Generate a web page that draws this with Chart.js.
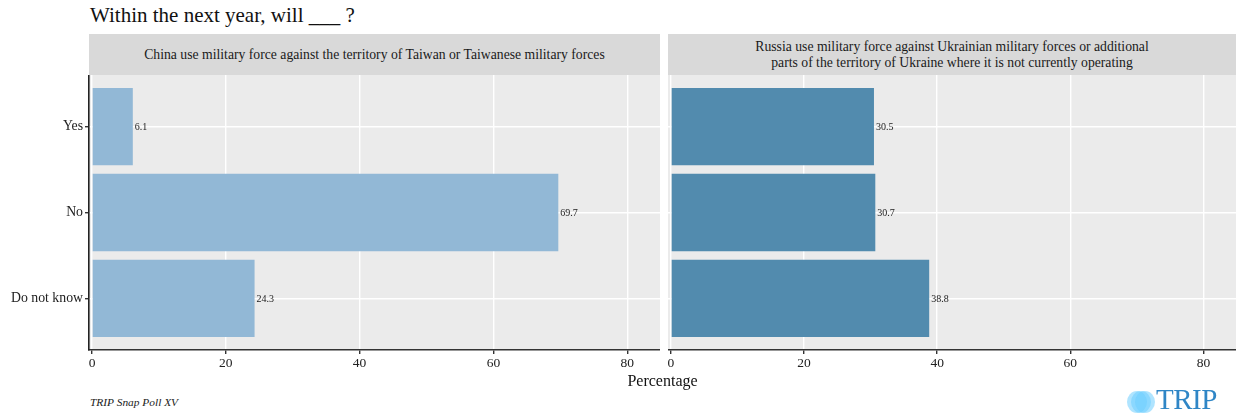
<!DOCTYPE html>
<html>
<head>
<meta charset="utf-8">
<script src="https://cdn.jsdelivr.net/npm/chart.js@4"></script>
<style>
  body { margin: 0; width: 1236px; height: 415px; background: #fff; position: relative; overflow: hidden;
         font-family: "Liberation Serif", "Times New Roman", serif; color: #1a1a1a; }
  .title { position: absolute; left: 90px; top: 3px; font-size: 21px; color: #111; }
  .strip { position: absolute; top: 34px; height: 41px; background: #d9d9d9; display: flex;
           align-items: center; justify-content: center; text-align: center; font-size: 13.7px; line-height: 15.5px; color: #1a1a1a; }
  .panel { position: absolute; top: 75px; height: 300px; }
  .xtitle { position: absolute; left: 89px; width: 1147px; top: 372px; text-align: center; font-size: 16px; color: #111; }
  .source { position: absolute; left: 90px; top: 396px; font-size: 11.4px; font-style: italic; color: #222; }
  .logo { position: absolute; left: 1126px; top: 388px; height: 26px; width: 110px; }
  .logo .dot { position: absolute; top: 3px; width: 20px; height: 22px; border-radius: 50%; background: rgba(110, 205, 255, 0.55); }
  .logo .txt { position: absolute; left: 30px; top: -5px; font-size: 29px; color: #2f86c6; letter-spacing: -0.5px; }
</style>
</head>
<body>
<div class="title">Within the next year, will ___ ?</div>
<div class="strip" style="left:89px;width:571px;">China use military force against the territory of Taiwan or Taiwanese military forces</div>
<div class="strip" style="left:668px;width:568px;">Russia use military force against Ukrainian military forces or additional<br>parts of the territory of Ukraine where it is not currently operating</div>
<div class="panel" style="left:0;width:660px;"><canvas id="china"></canvas></div>
<div class="panel" style="left:668px;width:568px;"><canvas id="russia"></canvas></div>
<div class="xtitle">Percentage</div>
<div class="source">TRIP Snap Poll XV</div>
<div class="logo">
  <div class="dot" style="left:1px;"></div>
  <div class="dot" style="left:5px;"></div>
  <div class="dot" style="left:9px;"></div>
  <div class="txt">TRIP</div>
</div>
<script>
// respostas (ordem de cima para baixo)
const categories = ["Yes", "No", "Do not know"];
const chinaValues = [6.1, 69.7, 24.3];
const russiaValues = [30.5, 30.7, 38.8];
const xTicks = [0, 20, 40, 60, 80];

const serif = '"Liberation Serif", "Times New Roman", serif';

// fundo cinza do painel, estilo ggplot
const panelBg = {
  id: "panelBg",
  beforeDraw(chart) {
    const a = chart.chartArea;
    chart.ctx.save();
    chart.ctx.fillStyle = "#ebebeb";
    chart.ctx.fillRect(a.left, a.top, a.right - a.left, a.bottom - a.top);
    chart.ctx.restore();
  }
};

// rótulos com o valor no fim de cada barra
const valueLabels = {
  id: "valueLabels",
  afterDatasetsDraw(chart) {
    const ctx = chart.ctx;
    ctx.save();
    ctx.font = "10px " + serif;
    ctx.fillStyle = "#1a1a1a";
    ctx.textBaseline = "middle";
    chart.getDatasetMeta(0).data.forEach((bar, i) => {
      ctx.fillText(chart.data.datasets[0].data[i].x.toFixed(1), bar.x + 2, bar.y + 1);
    });
    ctx.restore();
  }
};

function makePanel(canvasId, values, color, showY) {
  new Chart(document.getElementById(canvasId), {
    type: "bar",
    data: {
      datasets: [{
        data: values.map((v, i) => ({ x: v, y: i + 1 })),
        backgroundColor: color,
        borderWidth: 0,
        barPercentage: 0.9,
        categoryPercentage: 1
      }]
    },
    options: {
      indexAxis: "y",
      responsive: true,
      maintainAspectRatio: false,
      animation: false,
      layout: { padding: 0 },
      plugins: { legend: { display: false }, tooltip: { enabled: false } },
      scales: {
        x: {
          type: "linear",
          min: -0.45,
          max: 84.9,
          afterBuildTicks: (s) => { s.ticks = xTicks.map((v) => ({ value: v })); },
          afterFit: (s) => { s.height = 25; s.paddingLeft = 0; s.paddingRight = 0; },
          grid: { color: "#ffffff", lineWidth: 1.4, tickColor: "#333333", tickLength: 4 },
          border: { display: true, color: "#333333", width: 1.6 },
          ticks: { color: "#222", font: { family: serif, size: 13.5 }, padding: 1, maxRotation: 0 }
        },
        y: {
          type: "linear",
          reverse: true,
          offset: false,
          min: 0.4,
          max: 3.6,
          afterBuildTicks: (s) => { s.ticks = categories.map((c, i) => ({ value: i + 1 })); },
          afterFit: (s) => { s.width = showY ? 89 : 0; s.paddingTop = 0; s.paddingBottom = 0; },
          grid: { offset: false, color: "#ffffff", lineWidth: 1.4, tickColor: "#333333", tickLength: 4, drawTicks: showY },
          border: { display: showY, color: "#222222", width: 1.6 },
          ticks: {
            display: showY,
            color: "#222",
            font: { family: serif, size: 13.8 },
            padding: 2,
            callback: (v) => categories[v - 1]
          }
        }
      }
    },
    plugins: [panelBg, valueLabels]
  });
}

makePanel("china", chinaValues, "#92b8d6", true);
makePanel("russia", russiaValues, "#528bae", false);
</script>
</body>
</html>
